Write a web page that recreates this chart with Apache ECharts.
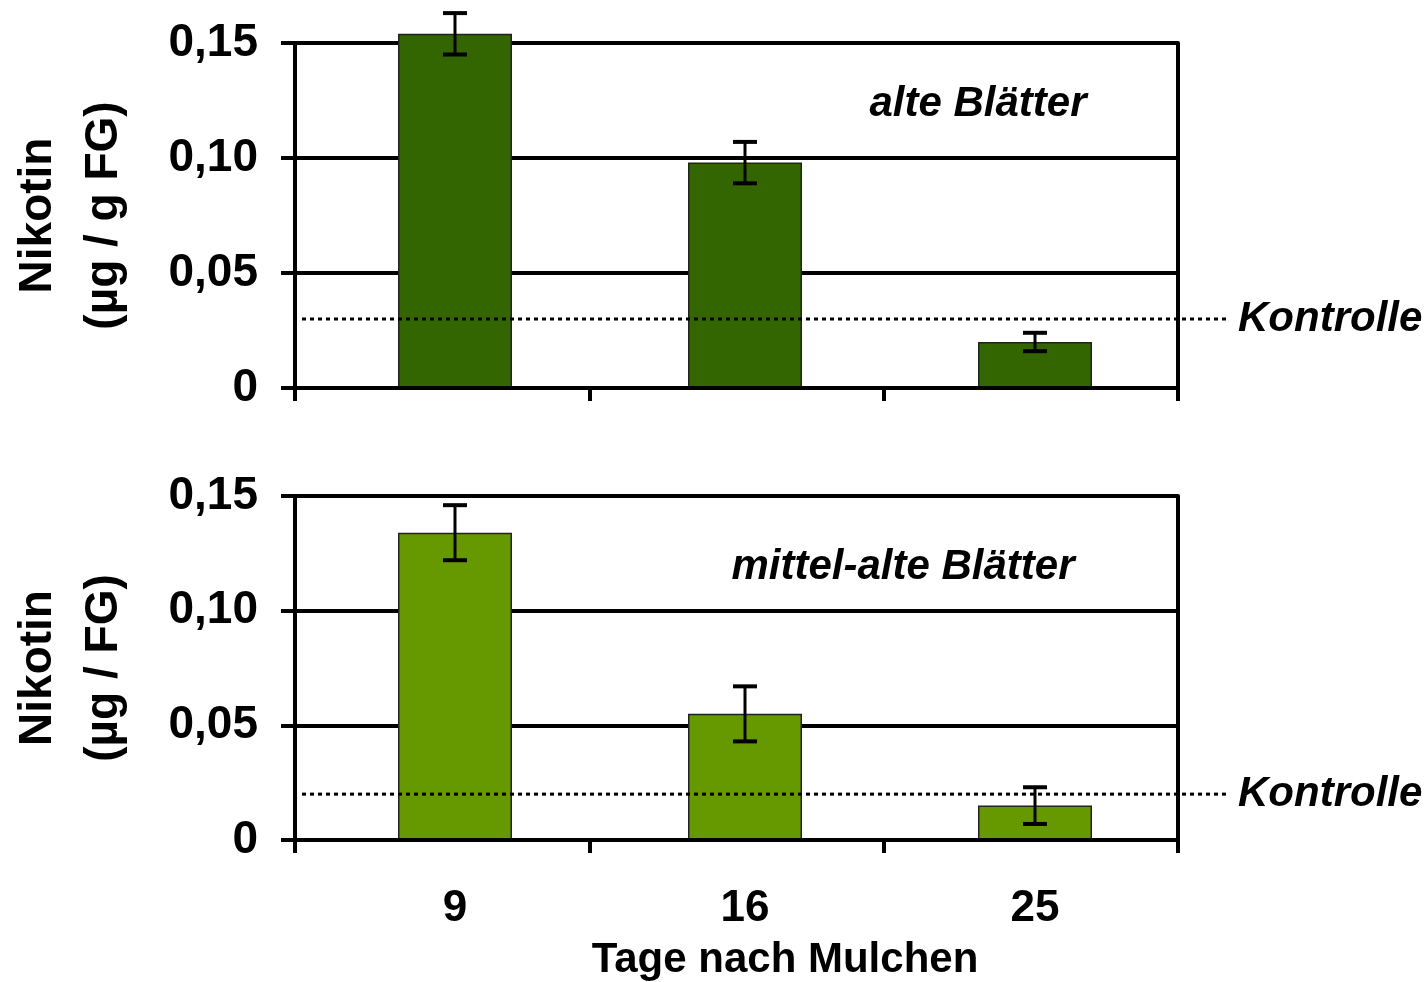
<!DOCTYPE html>
<html>
<head>
<meta charset="utf-8">
<script src="https://cdn.jsdelivr.net/npm/echarts@6/dist/echarts.min.js"></script>
<style>
html,body{margin:0;padding:0;background:#fff;}
#chart{width:1428px;height:982px;}
</style>
</head>
<body>
<div id="chart"></div>
<script>
const categories = ['9', '16', '25'];
const yTicks = [0, 0.05, 0.10, 0.15];
const oldLeaves = [0.154, 0.098, 0.020];
const oldLeavesErr = [0.009, 0.009, 0.004];
const oldControl = 0.030;
const midLeaves = [0.134, 0.055, 0.015];
const midLeavesErr = [0.012, 0.012, 0.008];
const midControl = 0.020;
const titleTop = 'alte Blätter';
const titleBottom = 'mittel-alte Blätter';
const yNameTop = 'Nikotin\n(µg / g FG)';
const yNameBottom = 'Nikotin\n(µg / FG)';
const xName = 'Tage nach Mulchen';
const controlLabel = 'Kontrolle';

const FONT = '"Liberation Sans", Arial, Helvetica, sans-serif';
const panels = [
  {top: 43, height: 345, data: oldLeaves, err: oldLeavesErr, ctrl: oldControl, color: '#336600', name: yNameTop, title: titleTop, titleX: 978, titleY: 104, showX: false},
  {top: 496, height: 344, data: midLeaves, err: midLeavesErr, ctrl: midControl, color: '#669900', name: yNameBottom, title: titleBottom, titleX: 903, titleY: 567, showX: true}
];
const LEFT = 295, WIDTH = 883;

const grid = [], xAxis = [], yAxis = [], series = [], graphic = [];
const fmt = v => v === 0 ? '0' : v.toFixed(2).replace('.', ',');

panels.forEach((p, i) => {
  const g0 = grid.length;
  grid.push({left: LEFT, top: p.top, width: WIDTH, height: p.height, outerBoundsMode: 'none', containLabel: false});
  grid.push({left: 310, top: p.top, width: 870, height: p.height, outerBoundsMode: 'none', containLabel: false});
  grid.push({left: 302, top: p.top, width: 926, height: p.height, outerBoundsMode: 'none', containLabel: false});

  const x0 = xAxis.length, y0 = yAxis.length;
  xAxis.push({type: 'category', gridIndex: g0, data: categories, boundaryGap: true,
    axisLine: {show: true, lineStyle: {color: '#000', width: 4}},
    axisTick: {show: true, inside: false, length: 13, lineStyle: {color: '#000', width: 4}},
    axisLabel: {show: false}, splitLine: {show: false}, z: 5});
  yAxis.push({type: 'value', gridIndex: g0, min: 0, max: 0.15, interval: 0.05,
    name: p.name, nameLocation: 'middle', nameGap: 158, nameRotate: 90,
    nameTextStyle: {fontFamily: FONT, fontWeight: 'bold', fontSize: 46, color: '#000', lineHeight: 66},
    axisLine: {show: true, lineStyle: {color: '#000', width: 4}},
    axisTick: {show: true, inside: false, length: 14, lineStyle: {color: '#000', width: 4}},
    axisLabel: {show: true, margin: 37, formatter: fmt, fontFamily: FONT, fontWeight: 'bold', fontSize: 46, color: '#000'},
    splitLine: {show: true, lineStyle: {color: '#000', width: 4}}});
  yAxis.push({type: 'value', gridIndex: g0, position: 'right', min: 0, max: 0.15, interval: 0.05,
    axisLine: {show: true, lineStyle: {color: '#000', width: 4}},
    axisTick: {show: false}, axisLabel: {show: false}, splitLine: {show: false}});
  xAxis.push({type: 'category', gridIndex: g0 + 1, data: categories, boundaryGap: true,
    axisLine: {show: false}, axisTick: {show: false},
    axisLabel: {show: p.showX, margin: 47, fontFamily: FONT, fontWeight: 'bold', fontSize: 44, color: '#000'},
    name: p.showX ? xName : '', nameLocation: 'middle', nameGap: 99,
    nameTextStyle: {fontFamily: FONT, fontWeight: 'bold', fontSize: 42, color: '#000', padding: [0, 0, 0, 80]},
    splitLine: {show: false}});
  yAxis.push({type: 'value', gridIndex: g0 + 1, min: 0, max: 0.15, show: false});
  xAxis.push({type: 'value', gridIndex: g0 + 2, min: 0, max: 1, show: false});
  yAxis.push({type: 'value', gridIndex: g0 + 2, min: 0, max: 0.15, show: false});

  series.push({type: 'bar', xAxisIndex: x0 + 1, yAxisIndex: y0 + 2, data: p.data, barWidth: 114, clip: false,
    itemStyle: {color: p.color, borderColor: '#222', borderWidth: 1.5}, z: 3});
  series.push({type: 'custom', xAxisIndex: x0 + 1, yAxisIndex: y0 + 2, clip: false, z: 6,
    data: p.data.map((v, k) => [k, v, p.err[k]]),
    renderItem: (params, api) => {
      const k = api.value(0), v = api.value(1), e = api.value(2);
      const hi = api.coord([k, v + e]);
      const lo = api.coord([k, v - e]);
      const cw = 12;
      const st = {stroke: '#000', lineWidth: 4};
      return {type: 'group', children: [
        {type: 'line', shape: {x1: hi[0], y1: hi[1], x2: lo[0], y2: lo[1]}, style: {stroke: '#000', lineWidth: 3}},
        {type: 'line', shape: {x1: hi[0] - cw, y1: hi[1], x2: hi[0] + cw, y2: hi[1]}, style: st},
        {type: 'line', shape: {x1: lo[0] - cw, y1: lo[1], x2: lo[0] + cw, y2: lo[1]}, style: st}
      ]};
    }});
  series.push({type: 'line', xAxisIndex: x0 + 2, yAxisIndex: y0 + 3, showSymbol: false, symbol: 'none', z: 7,
    data: [[0, p.ctrl], [1, p.ctrl]],
    lineStyle: {color: '#000', width: 3, type: [4, 4]},
    endLabel: {show: true, formatter: controlLabel, distance: 10, fontFamily: FONT, fontWeight: 'bold', fontStyle: 'italic', fontSize: 42, color: '#000'},
    silent: true, animation: false});

  graphic.push({type: 'text', x: p.titleX, y: p.titleY, z: 10,
    style: {text: p.title, fontFamily: FONT, fontWeight: 'bold', fontStyle: 'italic', fontSize: 42, fill: '#000', textAlign: 'center', textVerticalAlign: 'middle'}});
});

const chart = echarts.init(document.getElementById('chart'), null, {renderer: 'canvas'});
chart.setOption({animation: false, backgroundColor: '#fff', grid, xAxis, yAxis, series, graphic});
</script>
</body>
</html>
